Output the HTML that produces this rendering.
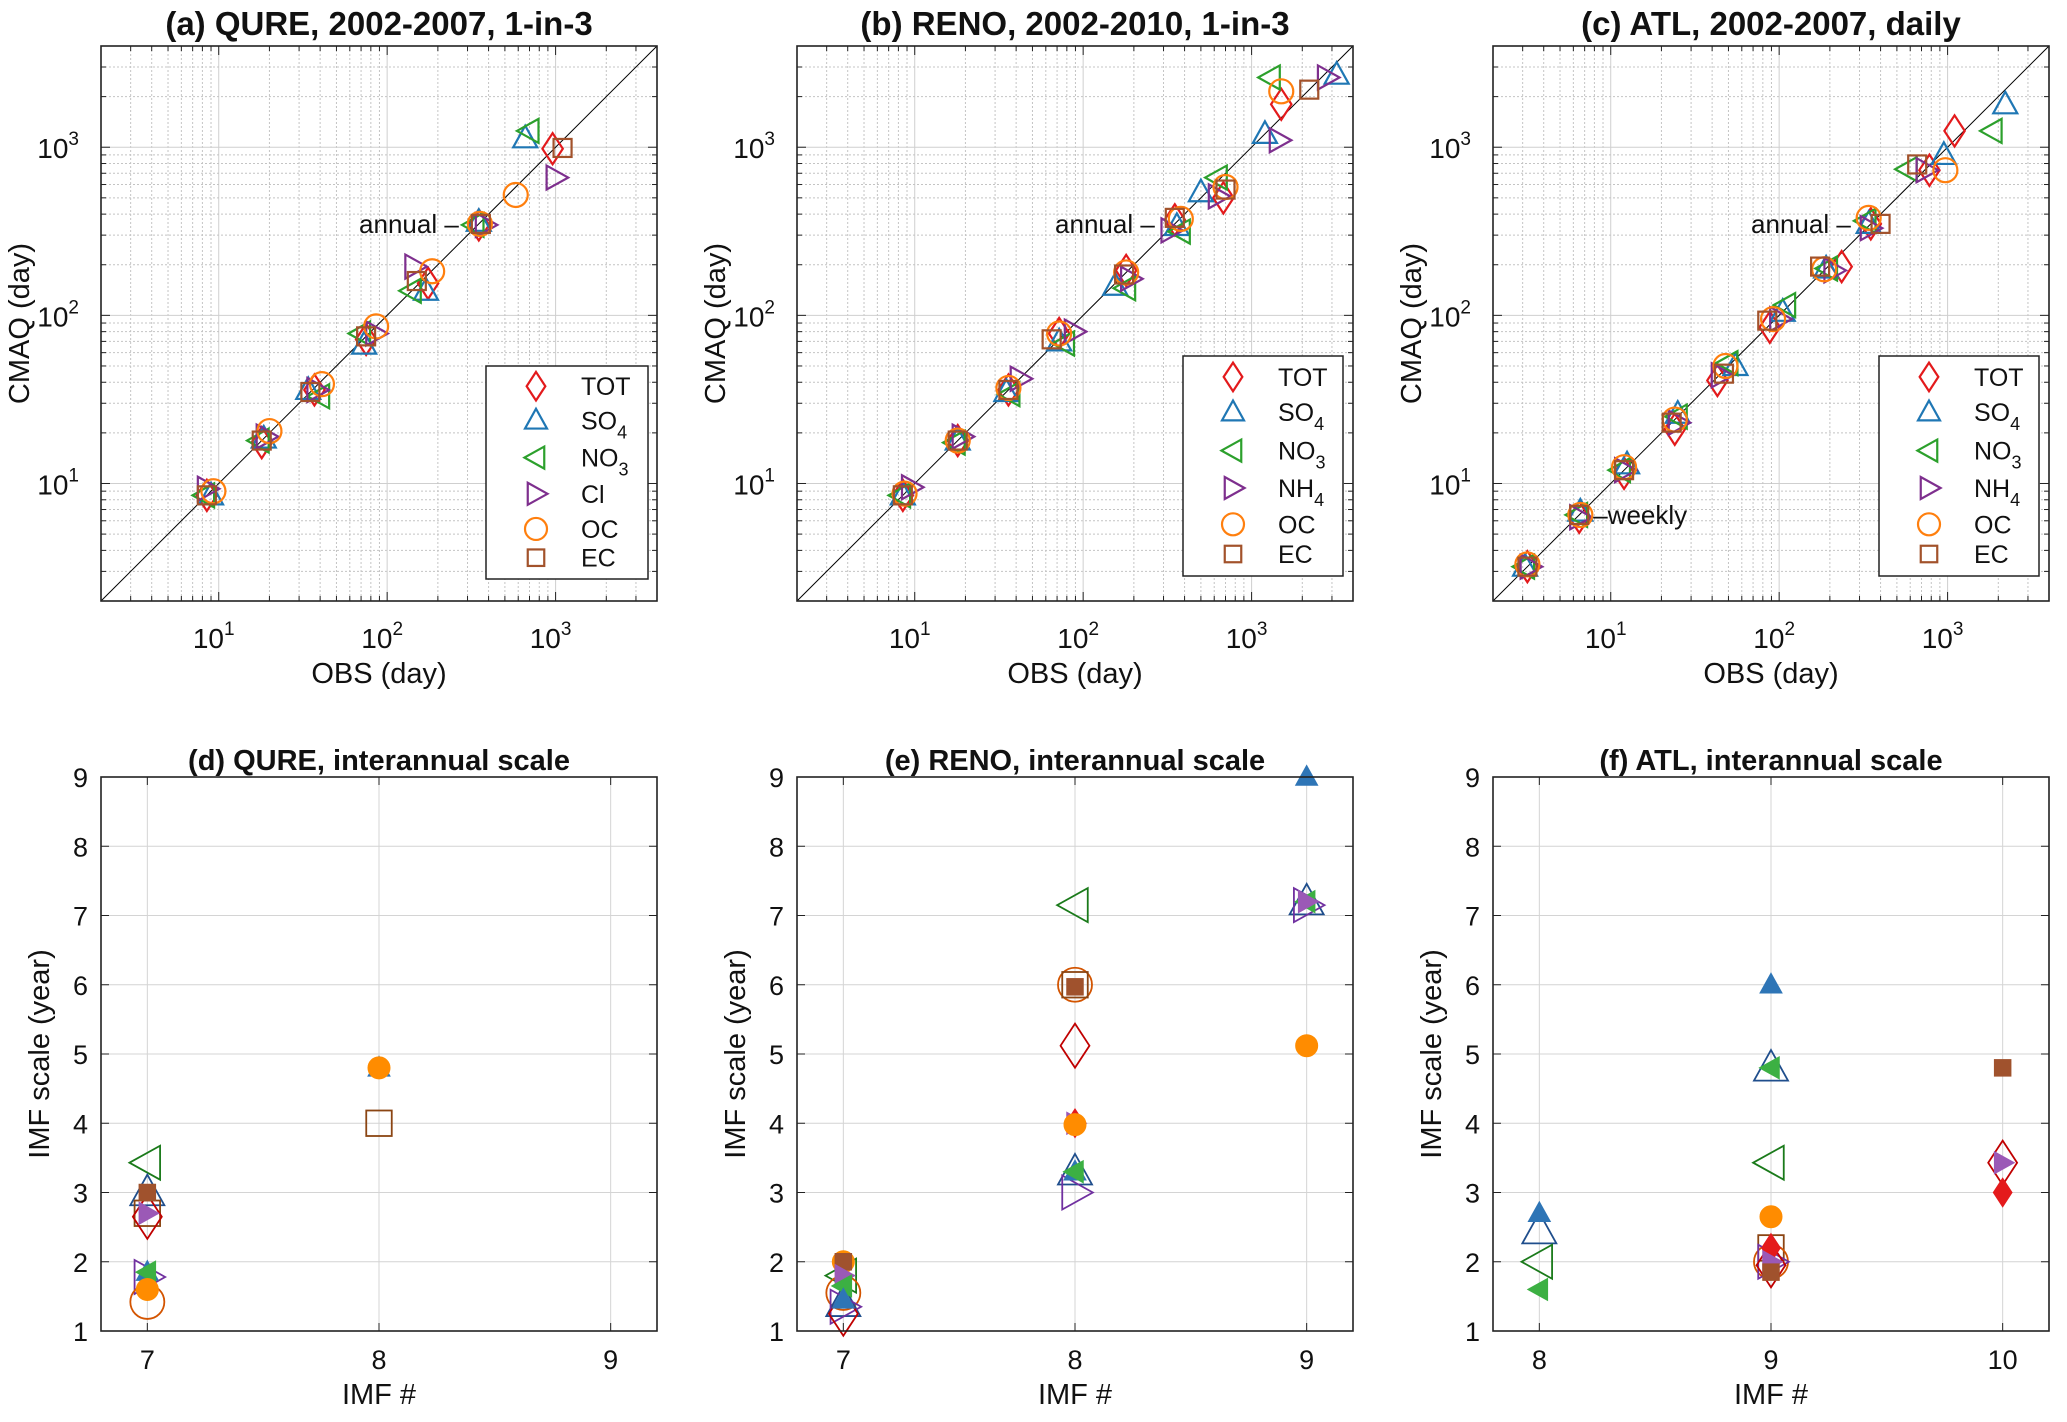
<!DOCTYPE html>
<html><head><meta charset="utf-8"><title>IMF scales</title>
<style>
html,body{margin:0;padding:0;background:#fff;}
svg{display:block;font-family:"Liberation Sans",Arial,sans-serif;}
</style></head>
<body>
<svg id="chart" width="2067" height="1422" viewBox="0 0 2067 1422" xmlns="http://www.w3.org/2000/svg"></svg>
<script>
// ---------- DATA (top panels: OBS vs CMAQ time scale, day) ----------
const aNames = ["TOT","SO|4","NO|3","Cl","OC","EC"];
const aObs = [
 [8.5,18,37,75,175,350,960],
 [9,18.5,34,73,170,350,660],
 [8.3,17.5,40,70,140,330,700],
 [8.5,19,38,85,145,380,1000],
 [9.3,20,41,86,185,355,580],
 [8.5,18,35,75,150,360,1100]];
const aCmaq = [
 [8.5,17.5,36,72,155,345,980],
 [8.5,18.5,36,67,140,360,1130],
 [8.5,18,33,78,140,345,1250],
 [9.3,19,36,78,195,345,660],
 [9,20.5,39,86,183,350,520],
 [8.5,18,35,75,160,350,990]];
const bNames = ["TOT","SO|4","NO|3","NH|4","OC","EC"];
const bObs = [
 [8.5,18,36,72,180,350,680,1500],
 [8.5,18,35,72,155,360,500,1200,3200],
 [8.3,17.5,37,78,180,380,630,1300],
 [9.5,19,42,88,190,330,630,1450,2800],
 [8.7,18,36,72,180,380,700,1500],
 [8.5,18,36,65,175,350,700,2200]];
const bCmaq = [
 [8.5,18,36,78,185,370,500,1800],
 [8.5,18,35,70,150,340,540,1200,2700],
 [8.5,17.5,34,68,145,315,660,2600],
 [9.5,19,42,80,165,320,510,1100,2600],
 [8.7,18,37,78,180,375,580,2150],
 [8.5,18,36,72,175,380,560,2200]];
const cNames = ["TOT","SO|4","NO|3","NH|4","OC","EC"];
const cObs = [
 [3.2,6.5,12,24,43,88,235,350,780,1100],
 [3.1,6.6,12.5,25,55,105,190,340,950,2200],
 [3.1,6.4,11.5,25,50,110,195,330,580,1850],
 [3.3,6.5,12,25,45,100,210,345,740],
 [3.2,6.6,12,24,48,92,185,340,970],
 [3.2,6.5,12,23,47,85,175,400,660]];
const cCmaq = [
 [3.2,6.3,11.5,21,41,85,195,350,730,1250],
 [3.2,6.8,13,26,50,105,190,350,900,1800],
 [3.2,6.5,12,25,52,115,190,365,740,1250],
 [3.2,6.3,12,23,44,95,185,330,730],
 [3.3,6.5,12.5,24,50,95,188,380,730],
 [3.2,6.5,12,23,45,93,195,350,790]];
const logTicks = [10,100,1000];
const logTickExp = ["1","2","3"];

// ---------- DATA (bottom panels: IMF # vs IMF scale, year) ----------
const dImf   = [7,7,7,7,7,7,8, 7,7,7,7,7,8,8];
const dScale = [3.43,3.0,2.7,2.65,1.78,1.42,4.0, 3.0,2.7,1.85,1.85,1.6,4.8,4.8];
const dSer   = [2,1,5,0,3,4,5, 5,3,1,2,4,1,4];
const dFill  = [0,0,0,0,0,0,0, 1,1,1,1,1,1,1];
const eImf   = [7,7,7,7,7,8,8,8,8,8,8,9,9, 7,7,7,7,7,8,8,8,8,8,8,9,9,9,9];
const eScale = [1.8,1.55,1.4,1.35,1.25,7.15,6.0,6.0,5.12,3.3,3.0,7.2,7.15, 2.0,2.0,1.8,1.65,1.45,5.97,4.0,4.0,3.98,3.3,3.3,9.0,7.2,7.2,5.12];
const eSer   = [2,4,1,3,0,2,4,5,0,1,3,1,3, 4,5,3,2,1,5,0,3,4,1,2,1,2,3,4];
const eFill  = [0,0,0,0,0,0,0,0,0,0,0,0,0, 1,1,1,1,1,1,1,1,1,1,1,1,1,1,1];
const fImf   = [8,8,9,9,9,9,9,9,10, 8,8,9,9,9,9,9,9,10,10,10];
const fScale = [2.45,2.0,4.8,3.43,2.2,2.0,2.0,1.95,3.43, 2.7,1.6,6.0,4.8,2.65,2.2,2.0,1.85,4.8,3.43,3.0];
const fSer   = [1,2,1,2,5,4,3,0,0, 1,2,1,2,4,0,3,5,5,3,0];
const fFill  = [0,0,0,0,0,0,0,0,0, 1,1,1,1,1,1,1,1,1,1,1];
const linTicksY = [1,2,3,4,5,6,7,8,9];

// ---------- STYLE ----------
const NS="http://www.w3.org/2000/svg";
const svg=document.getElementById('chart');
const shapes=['d','t','l','r','o','s'];
const topColors=['#e31a1c','#1f77b4','#2ca02c','#7e2f8e','#ff7f0e','#a2522b'];
const openColors=['#c00000','#1f4e8c','#1a7a1a','#7030a0','#d35400','#8b4513'];
const fillColors=['#e41a1c','#2e75b6','#3cb043','#9b59b6','#ff8c00','#a0522d'];
const W=556,H=555;
function el(tag,attrs,parent){const e=document.createElementNS(NS,tag);for(const k in attrs)e.setAttribute(k,attrs[k]);(parent||svg).appendChild(e);return e;}

function drawMarker(g,type,cx,cy,r,color,filled,lw){
  let e;
  if(type==='o'){e=el('circle',{cx:cx,cy:cy,r:r},g);}
  else if(type==='s'){const s=r*0.75;e=el('rect',{x:cx-s,y:cy-s,width:2*s,height:2*s},g);}
  else{
    let p;
    if(type==='d')p=[[cx,cy-r*1.3],[cx+r*0.85,cy],[cx,cy+r*1.3],[cx-r*0.85,cy]];
    else if(type==='t')p=[[cx,cy-r*1.05],[cx+r,cy+r*0.75],[cx-r,cy+r*0.75]];
    else if(type==='l')p=[[cx-r*1.05,cy],[cx+r*0.75,cy-r],[cx+r*0.75,cy+r]];
    else p=[[cx+r*1.05,cy],[cx-r*0.75,cy-r],[cx-r*0.75,cy+r]];
    e=el('polygon',{points:p.map(q=>q.join(',')).join(' ')},g);
  }
  e.setAttribute('fill',filled?color:'none');
  e.setAttribute('stroke',color);
  e.setAttribute('stroke-width',filled?1:lw);
  return e;
}

function txt(s,x,y,size,anchor,parent,weight){
  const t=el('text',{x:x,y:y,'font-size':size,'text-anchor':anchor||'middle','fill':'#111'},parent);
  if(weight)t.setAttribute('font-weight',weight);
  t.textContent=s;return t;
}
function subText(label,x,y,size,parent){
  const parts=label.split('|');
  const t=el('text',{x:x,y:y,'font-size':size,'fill':'#111'},parent);
  t.appendChild(document.createTextNode(parts[0]));
  if(parts[1]){const s=el('tspan',{dy:9,'font-size':size*0.72},t);s.textContent=parts[1];}
  return t;
}

// ---------- LOG PANELS ----------
function logPanel(L,T,title,names,obs,cmaq,legBox,notes,key){
  const g=el('g',{});
  
  
  const lo=Math.log10(2),hi=Math.log10(4000);
  const X=v=>L+(Math.log10(v)-lo)/(hi-lo)*W;
  const Y=v=>T+H-(Math.log10(v)-lo)/(hi-lo)*H;
  el('rect',{x:L,y:T,width:W,height:H,fill:'#fff'},g);
  const grid=el('g',{},g);
  
  
  for(let d=0;d<4;d++)for(let k=1;k<10;k++){
    const v=k*Math.pow(10,d); if(v<2||v>4000)continue;
    const major=(k===1);
    const a={stroke:major?'#cfcfcf':'#c4c4c4','stroke-width':1};
    if(!major)a['stroke-dasharray']='2,2';
    el('line',Object.assign({x1:X(v),x2:X(v),y1:T,y2:T+H},a),grid);
    el('line',Object.assign({x1:L,x2:L+W,y1:Y(v),y2:Y(v)},a),grid);
    const tl=major?9:5;
    el('line',{x1:X(v),x2:X(v),y1:T+H,y2:T+H-tl,stroke:'#222','stroke-width':1},grid);
    el('line',{x1:X(v),x2:X(v),y1:T,y2:T+tl,stroke:'#222','stroke-width':1},grid);
    el('line',{x1:L,x2:L+tl,y1:Y(v),y2:Y(v),stroke:'#222','stroke-width':1},grid);
    el('line',{x1:L+W,x2:L+W-tl,y1:Y(v),y2:Y(v),stroke:'#222','stroke-width':1},grid);
  }
  const diag=el('line',{x1:X(2),y1:Y(2),x2:X(4000),y2:Y(4000),stroke:'#000','stroke-width':1},g);
  
  
  for(let s=0;s<names.length;s++){
    const sg=el('g',{},g);
    
    
    for(let i=0;i<obs[s].length;i++){
      const m=drawMarker(sg,shapes[s],X(obs[s][i]),Y(cmaq[s][i]),12,topColors[s],false,2.2);
      
      
    }
  }
  el('rect',{x:L,y:T,width:W,height:H,fill:'none',stroke:'#222','stroke-width':1.6},g);
  logTicks.forEach((v,i)=>{
    const t=txt('10',X(v)-5,T+H+47,28,'middle',g);
    const sp=el('tspan',{dy:-13,'font-size':19},t);sp.textContent=logTickExp[i];
    
    
    const t2=txt('10',L-22,Y(v)+11,28,'end',g);
    const sp2=el('tspan',{dy:-13,'font-size':19},t2);sp2.textContent=logTickExp[i];
    
    
  });
  const tt=txt(title,L+W/2,35,33,'middle',g,'bold');
  
  
  const xl=txt('OBS (day)',L+W/2,683,29,'middle',g);
  
  
  const yl=txt('CMAQ (day)',0,0,29,'middle',g);
  yl.setAttribute('transform','translate('+(L-72)+','+(T+H/2)+') rotate(-90)');
  
  
  const lg=el('g',{},g);
  
  
  el('rect',{x:legBox[0],y:legBox[1],width:legBox[2],height:legBox[3],fill:'#fff',stroke:'#222','stroke-width':1.5},lg);
  const rows=[0.095,0.255,0.43,0.6,0.765,0.9];
  names.forEach((n,s)=>{
    const ry=legBox[1]+rows[s]*legBox[3];
    const e=el('g',{},lg);
    
    
    drawMarker(e,shapes[s],legBox[0]+50,ry,11,topColors[s],false,2.2);
    subText(n,legBox[0]+95,ry+9,25,e);
  });
  notes.forEach(nt=>{
    const t=txt(nt[0],X(nt[1])+nt[2],Y(nt[1])+9,26,nt[3],g);
    
    
  });
}
logPanel(101,46,'(a) QURE, 2002-2007, 1-in-3',aNames,aObs,aCmaq,[486,366,162,213],[['annual \u2013',350,-20,'end','annual-label']],'a');
logPanel(797,46,'(b) RENO, 2002-2010, 1-in-3',bNames,bObs,bCmaq,[1183,356,160,220],[['annual \u2013',350,-20,'end','annual-label']],'b');
logPanel(1493,46,'(c) ATL, 2002-2007, daily',cNames,cObs,cCmaq,[1879,356,160,220],[['annual \u2013',350,-20,'end','annual-label'],['\u2013weekly',6.5,14,'start','weekly-label']],'c');

// ---------- LINEAR PANELS ----------
function linPanel(L,title,xmin,xTicks,imf,scl,ser,fill,key){
  const T=777,HH=554;
  const g=el('g',{});
  
  
  const X=v=>L+(v-xmin)/2.4*W;
  const Y=v=>T+HH-(v-1)/8*HH;
  const grid=el('g',{},g);
  
  
  xTicks.forEach(v=>{
    el('line',{x1:X(v),x2:X(v),y1:T,y2:T+HH,stroke:'#d4d4d4','stroke-width':1},grid);
    el('line',{x1:X(v),x2:X(v),y1:T+HH,y2:T+HH-8,stroke:'#222'},grid);
    el('line',{x1:X(v),x2:X(v),y1:T,y2:T+8,stroke:'#222'},grid);
    const t=txt(String(v),X(v),T+HH+38,27,'middle',g);
    
    
  });
  linTicksY.forEach(v=>{
    el('line',{x1:L,x2:L+W,y1:Y(v),y2:Y(v),stroke:'#d4d4d4','stroke-width':1},grid);
    el('line',{x1:L,x2:L+8,y1:Y(v),y2:Y(v),stroke:'#222'},grid);
    el('line',{x1:L+W,x2:L+W-8,y1:Y(v),y2:Y(v),stroke:'#222'},grid);
    const t=txt(String(v),L-13,Y(v)+10,27,'end',g);
    
    
  });
  const mg=el('g',{},g);
  
  
  for(let i=0;i<imf.length;i++){
    const f=fill[i]===1;
    const m=drawMarker(mg,shapes[ser[i]],X(imf[i]),Y(scl[i]),f?11:17,f?fillColors[ser[i]]:openColors[ser[i]],f,1.8);
    
    
  }
  el('rect',{x:L,y:T,width:W,height:HH,fill:'none',stroke:'#222','stroke-width':1.6},g);
  const tt=txt(title,L+W/2,770,29,'middle',g,'bold');
  
  
  const xl=txt('IMF #',L+W/2,1404,29,'middle',g);
  
  
  const yl=txt('IMF scale (year)',0,0,29,'middle',g);
  yl.setAttribute('transform','translate('+(L-52)+','+(T+HH/2)+') rotate(-90)');
  
  
}
linPanel(101,'(d) QURE, interannual scale',6.8,[7,8,9],dImf,dScale,dSer,dFill,'d');
linPanel(797,'(e) RENO, interannual scale',6.8,[7,8,9],eImf,eScale,eSer,eFill,'e');
linPanel(1493,'(f) ATL, interannual scale',7.8,[8,9,10],fImf,fScale,fSer,fFill,'f');
</script>
</body></html>
